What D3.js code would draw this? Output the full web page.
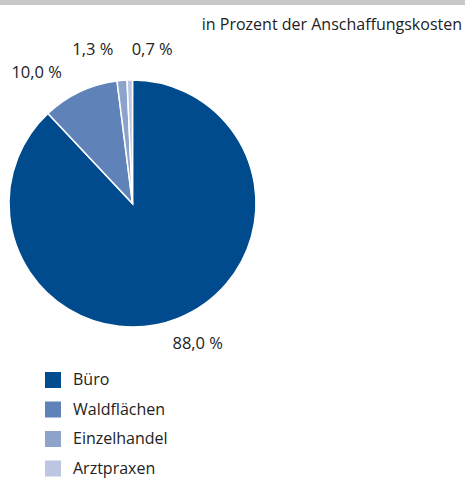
<!DOCTYPE html>
<html lang="de">
<head>
<meta charset="UTF-8">
<title>Anschaffungskosten</title>
<style>
    * { margin: 0; padding: 0; }
    body { background: #fff; }
</style>
</head>
<body>
<div id="chart"></div>
<script src="https://cdn.jsdelivr.net/npm/d3@7"></script>
<script>
    const categories = ['Büro', 'Waldflächen', 'Einzelhandel', 'Arztpraxen']
    const values = [88.0, 10.0, 1.3, 0.7]
    const labels = ['88,0 %', '10,0 %', '1,3 %', '0,7 %']

    const width = 465
    const height = 479
    const colors = ['#004b8d', '#5f83b9', '#8ea3cb', '#bcc6e1']
    // manual nudges of the value labels (layout only)
    const labelNudge = [[10, 2], [-32, 6], [-27, -3], [23, -3]]

    const svg = d3.select('#chart')
        .append('svg')
        .attr('width', width)
        .attr('height', height)
        .style('font-family', '"Open Sans", sans-serif')

    svg.append('rect')
        .attr('width', width)
        .attr('height', 5)
        .attr('fill', '#c8c8c8')

    svg.append('text')
        .attr('x', 462)
        .attr('y', 26)
        .attr('text-anchor', 'end')
        .attr('dominant-baseline', 'middle')
        .style('font-size', '16px')
        .attr('fill', '#222')
        .text('in Prozent der Anschaffungskosten')

    const data = categories.map((c, i) => ({ name: c, value: values[i], label: labels[i] }))

    const pie = d3.pie().value(d => d.value).sort(null)
    const arcs = pie(data)
    const radius = 123.5
    const arc = d3.arc().innerRadius(0).outerRadius(radius)
    const labelArc = d3.arc().innerRadius(150).outerRadius(150)

    const g = svg.append('g')
        .attr('transform', 'translate(132.5, 203.5)')

    g.selectAll('path')
        .data(arcs)
        .join('path')
        .attr('d', arc)
        .attr('fill', (d, i) => colors[i])
        .attr('stroke', '#fff')
        .attr('stroke-width', 1.5)

    g.selectAll('text')
        .data(arcs)
        .join('text')
        .attr('x', (d, i) => labelArc.centroid(d)[0] + labelNudge[i][0])
        .attr('y', (d, i) => labelArc.centroid(d)[1] + labelNudge[i][1])
        .attr('text-anchor', 'middle')
        .attr('dominant-baseline', 'middle')
        .style('font-size', '16.5px')
        .attr('fill', '#222')
        .text(d => d.data.label)

    const legend = svg.append('g')
        .attr('transform', 'translate(45, 372)')

    const rowH = 29.5
    legend.selectAll('rect')
        .data(data)
        .join('rect')
        .attr('x', 0)
        .attr('y', (d, i) => i * rowH)
        .attr('width', 16)
        .attr('height', 16)
        .attr('fill', (d, i) => colors[i])

    legend.selectAll('text')
        .data(data)
        .join('text')
        .attr('x', 28)
        .attr('y', (d, i) => i * rowH + 9)
        .attr('dominant-baseline', 'middle')
        .style('font-size', '16px')
        .attr('fill', '#222')
        .text(d => d.name)
</script>
</body>
</html>
